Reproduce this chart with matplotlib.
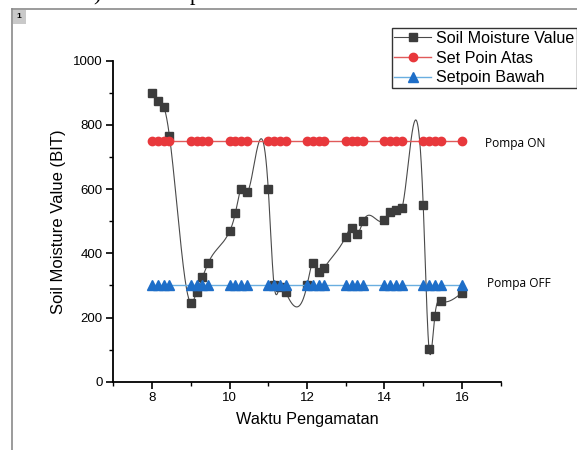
import numpy as np
import matplotlib
matplotlib.use('Agg')
import matplotlib.pyplot as plt
from matplotlib.patches import Rectangle
from matplotlib.lines import Line2D

# data
waktu = [8.0, 8.15, 8.3, 8.45, 9.0, 9.15, 9.3, 9.45, 10.0, 10.15, 10.3, 10.45,
         11.0, 11.15, 11.3, 11.45, 12.0, 12.15, 12.3, 12.45, 13.0, 13.15, 13.3, 13.45,
         14.0, 14.15, 14.3, 14.45, 15.0, 15.15, 15.3, 15.45, 16.0]
soil = [900, 873, 857, 765, 246, 279, 325, 370, 468, 525, 600, 590,
        600, 300, 295, 279, 300, 371, 342, 355, 452, 478, 461, 500,
        503, 530, 535, 540, 550, 102, 205, 251, 277]
set_atas = [750] * len(waktu)
set_bawah = [300] * len(waktu)

x_ticks = [8, 10, 12, 14, 16]
y_ticks = [0, 200, 400, 600, 800, 1000]


def natural_spline(x, y, n=1500):
    # natural cubic spline, like the "spline" connect line
    x = np.asarray(x, float)
    y = np.asarray(y, float)
    k = len(x)
    h = np.diff(x)
    A = np.zeros((k, k))
    b = np.zeros(k)
    A[0, 0] = 1
    A[-1, -1] = 1
    for i in range(1, k - 1):
        A[i, i - 1] = h[i - 1]
        A[i, i] = 2 * (h[i - 1] + h[i])
        A[i, i + 1] = h[i]
        b[i] = 3 * ((y[i + 1] - y[i]) / h[i] - (y[i] - y[i - 1]) / h[i - 1])
    c = np.linalg.solve(A, b)
    xs = np.linspace(x[0], x[-1], n)
    idx = np.clip(np.searchsorted(x, xs) - 1, 0, k - 2)
    dx = xs - x[idx]
    bb = (y[idx + 1] - y[idx]) / h[idx] - h[idx] * (2 * c[idx] + c[idx + 1]) / 3
    d = (c[idx + 1] - c[idx]) / (3 * h[idx])
    ys = y[idx] + bb * dx + c[idx] * dx ** 2 + d * dx ** 3
    return xs, ys


W, H = 577, 450
fig = plt.figure(figsize=(W / 100, H / 100), dpi=100)
plt.rcParams['font.family'] = ['Liberation Sans', 'DejaVu Sans']

# page frame with the little "1" tab
fig.add_artist(Line2D([11.7 / W, 11.7 / W], [0, 1 - 9.3 / H], color='#8a8a8a', lw=1.2))
fig.add_artist(Line2D([11.7 / W, 1], [1 - 9.3 / H, 1 - 9.3 / H], color='#8a8a8a', lw=1.2))
fig.add_artist(Rectangle((12.5 / W, 1 - 24 / H), 13.5 / W, 14 / H, transform=fig.transFigure,
                         facecolor='#c9c9c9', edgecolor='none'))
fig.text(19 / W, 1 - 17 / H, '1', fontsize=6, fontweight='bold', ha='center', va='center')

# cut-off document text above the frame (cut in the original too)
fig.text(93 / W, 1.0, ')', fontsize=16, family='Liberation Serif', va='baseline')
fig.text(190 / W, 1.0, 'p', fontsize=16, family='Liberation Serif', va='baseline')

ax = fig.add_axes([113.3 / W, 1 - 381.7 / H, (500.7 - 113.3) / W, (381.7 - 60.7) / H])

xs, ys = natural_spline(waktu, soil)
ax.plot(xs, ys, color='#4a4a4a', lw=0.8, zorder=2)
ax.plot(waktu, soil, ls='none', marker='s', ms=6.3, color='#3c3c3c', zorder=3)
ax.plot(waktu, set_atas, color='#e05a5a', lw=1, marker='o', ms=6,
        mfc='#e8383c', mec='#e8383c', zorder=4)
ax.plot(waktu, set_bawah, color='#6aaee0', lw=1, marker='^', ms=6.5,
        mfc='#1e6ec8', mec='#1e6ec8', zorder=4)

ax.set_xlim(7, 17)
ax.set_ylim(0, 1000)
ax.set_xticks(x_ticks)
ax.set_xticks(np.arange(7, 18, 1), minor=True)
ax.set_yticks(y_ticks)
ax.set_yticks(np.arange(100, 1000, 200), minor=True)
ax.spines['top'].set_visible(False)
ax.spines['right'].set_visible(False)
for s in ['left', 'bottom']:
    ax.spines[s].set_linewidth(1.3)
ax.tick_params(which='major', direction='out', length=5, width=1.2, labelsize=9.5, pad=2.5)
ax.tick_params(which='minor', direction='out', length=3, width=1.0)

ax.set_xlabel('Waktu Pengamatan', fontsize=11.7, labelpad=6)
ax.set_ylabel('Soil Moisture Value (BIT)', fontsize=12, labelpad=5)

fig.text(485 / W, 1 - 143 / H, 'Pompa ON', fontsize=8.6, family='Open Sans', va='center')
fig.text(487 / W, 1 - 283 / H, 'Pompa OFF', fontsize=8.6, family='Open Sans', va='center')

handles = [
    Line2D([], [], color='#4a4a4a', lw=0.8, marker='s', ms=5.8, mfc='#3c3c3c', mec='#3c3c3c'),
    Line2D([], [], color='#e05a5a', lw=1, marker='o', ms=6, mfc='#e8383c', mec='#e8383c'),
    Line2D([], [], color='#6aaee0', lw=1, marker='^', ms=6.5, mfc='#1e6ec8', mec='#1e6ec8'),
]
leg = fig.legend(handles, ['Soil Moisture Value', 'Set Poin Atas', 'Setpoin Bawah'],
                 loc='upper left', bbox_to_anchor=(391.7 / W, 1 - 28.3 / H),
                 bbox_transform=fig.transFigure, borderaxespad=0, fontsize=11.6,
                 frameon=True, fancybox=False, handlelength=2.3, handletextpad=0.3,
                 borderpad=0.15, labelspacing=0.3)
leg.get_frame().set_edgecolor('black')
leg.get_frame().set_linewidth(1.0)

fig.savefig('out.png', dpi=100)
